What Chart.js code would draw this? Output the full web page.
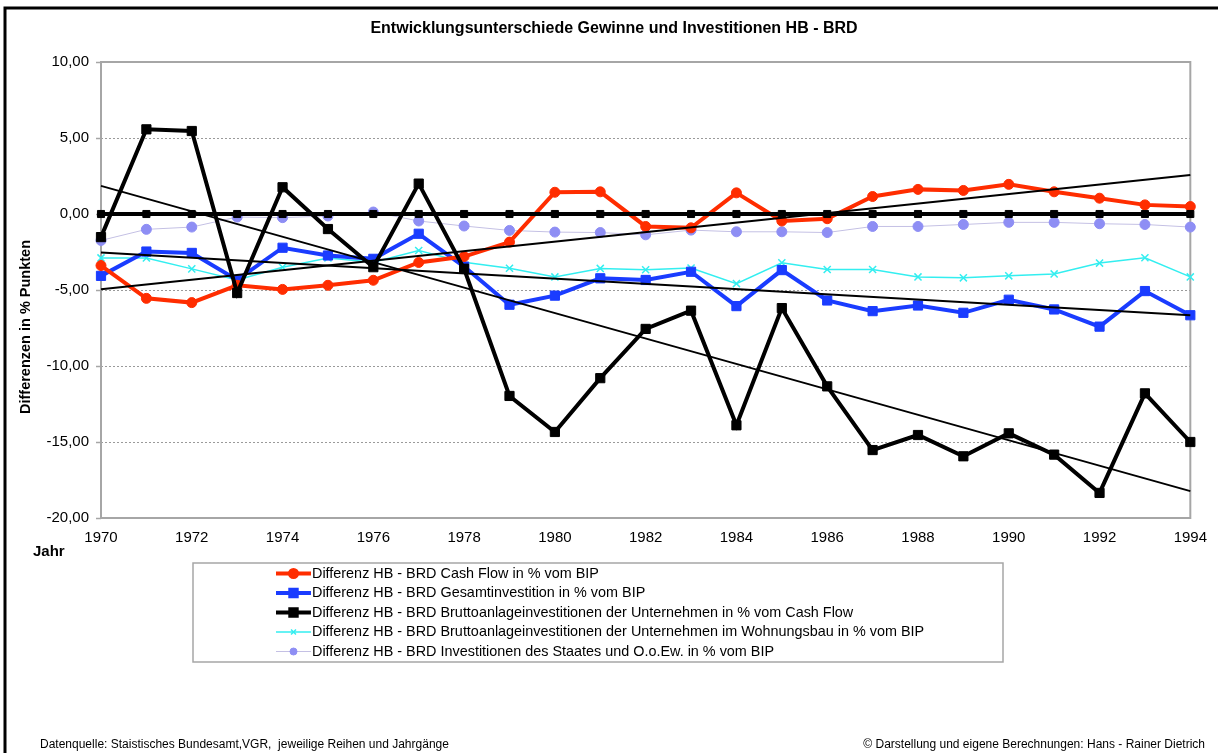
<!DOCTYPE html>
<html>
<head>
<meta charset="utf-8">
<script src="https://cdn.jsdelivr.net/npm/chart.js@4"></script>
<style>
  body { margin: 0; background: #fff; }
  #wrap { position: relative; width: 1218px; height: 753px; }
</style>
</head>
<body>
<div id="wrap"><canvas id="chart"></canvas></div>
<script>
// --- data ---
const years = ['1970','1971','1972','1973','1974','1975','1976','1977','1978','1979','1980','1981','1982',
               '1983','1984','1985','1986','1987','1988','1989','1990','1991','1992','1993','1994'];

const cashFlow = [-3.39,-5.55,-5.83,-4.69,-4.96,-4.69,-4.36,-3.19,-2.80,-1.85,1.43,1.46,-0.82,
                  -0.91,1.39,-0.46,-0.31,1.15,1.62,1.55,1.95,1.46,1.04,0.60,0.49];
const gesamtInvest = [-4.07,-2.47,-2.56,-4.34,-2.22,-2.73,-2.95,-1.30,-3.46,-5.97,-5.37,-4.23,-4.34,
                      -3.80,-6.06,-3.69,-5.69,-6.39,-6.02,-6.50,-5.64,-6.28,-7.41,-5.07,-6.66];
const bruttoCashFlow = [-1.52,5.57,5.46,-5.20,1.76,-0.99,-3.50,2.00,-3.60,-11.97,-14.34,-10.80,-7.56,
                        -6.36,-13.90,-6.19,-11.34,-15.53,-14.54,-15.94,-14.43,-15.83,-18.35,-11.80,-15.00];
const wohnungsbau = [-2.89,-2.89,-3.61,-4.34,-3.50,-2.89,-3.17,-2.40,-3.17,-3.57,-4.14,-3.58,-3.67,
                     -3.56,-4.58,-3.21,-3.65,-3.65,-4.14,-4.20,-4.07,-3.94,-3.23,-2.88,-4.14];
const staat = [-1.74,-1.01,-0.86,-0.20,-0.24,-0.13,0.13,-0.46,-0.79,-1.08,-1.19,-1.22,-1.37,
               -1.06,-1.17,-1.17,-1.22,-0.82,-0.82,-0.69,-0.55,-0.55,-0.64,-0.69,-0.86];
const baseline = [0,0,0,0,0,0,0,0,0,0,0,0,0,0,0,0,0,0,0,0,0,0,0,0,0];

// trend lines: value at 1970 and at 1994
const trendCashFlow = [-4.95, 2.57];
const trendGesamt = [-2.53, -6.66];
const trendBrutto = [1.85, -18.23];

const yTicks = [10, 5, 0, -5, -10, -15, -20];

const legendLabels = [
    'Differenz HB - BRD Cash Flow in % vom BIP',
    'Differenz HB - BRD Gesamtinvestition in % vom BIP',
    'Differenz HB - BRD Bruttoanlageinvestitionen der Unternehmen in % vom Cash Flow',
    'Differenz HB - BRD Bruttoanlageinvestitionen der Unternehmen im Wohnungsbau in % vom BIP',
    'Differenz HB - BRD Investitionen des Staates und O.o.Ew. in % vom BIP'
];

const FONT = '"Liberation Sans", Arial, Helvetica, sans-serif';

// spread two trend endpoints over the category axis (nulls in between)
function trendData(ends) {
    return years.map((y, i) => i === 0 ? ends[0] : (i === years.length - 1 ? ends[1] : null));
}

const fmt = v => v.toFixed(2).replace('.', ',');

// --- frame, plot border, titles, custom legend ---
const decorPlugin = {
    id: 'decor',
    beforeDatasetsDraw(chart) {
        const { ctx, chartArea: a } = chart;
        ctx.save();
        ctx.strokeStyle = '#a6a6a6';
        ctx.lineWidth = 2;
        ctx.setLineDash([]);
        ctx.strokeRect(a.left, a.top, a.right - a.left, a.bottom - a.top);
        ctx.restore();
    },
    afterDraw(chart) {
        const { ctx } = chart;
        ctx.save();

        // black frame (top and left)
        ctx.strokeStyle = '#000';
        ctx.lineWidth = 3;
        ctx.beginPath();
        ctx.moveTo(5, 760);
        ctx.lineTo(5, 8);
        ctx.lineTo(1225, 8);
        ctx.stroke();

        ctx.fillStyle = '#000';
        ctx.textBaseline = 'middle';

        // title
        ctx.font = 'bold 16px ' + FONT;
        ctx.textAlign = 'center';
        ctx.fillText('Entwicklungsunterschiede Gewinne und Investitionen HB - BRD', 614, 29);

        // y title
        ctx.save();
        ctx.translate(26, 327);
        ctx.rotate(-Math.PI / 2);
        ctx.font = 'bold 14.5px ' + FONT;
        ctx.fillText('Differenzen in % Punkten', 0, 0);
        ctx.restore();

        // x title
        ctx.font = 'bold 15px ' + FONT;
        ctx.textAlign = 'left';
        ctx.fillText('Jahr', 33, 552);

        // legend box
        ctx.strokeStyle = '#a6a6a6';
        ctx.lineWidth = 1.5;
        ctx.strokeRect(193, 563, 810, 99);
        const rows = [573.5, 593, 612.5, 632, 651.5];
        ctx.font = '14.4px ' + FONT;
        legendLabels.forEach((label, i) => {
            const ds = chart.data.datasets[i];
            const y = rows[i];
            ctx.save();
            ctx.strokeStyle = ds.borderColor;
            ctx.lineWidth = ds.borderWidth;
            ctx.beginPath();
            ctx.moveTo(276, y);
            ctx.lineTo(311, y);
            ctx.stroke();
            ctx.fillStyle = ds.pointBackgroundColor;
            ctx.strokeStyle = ds.pointBorderColor;
            Chart.helpers.drawPoint(ctx, {
                pointStyle: ds.pointStyle,
                radius: ds.pointRadius * 0.7,
                rotation: 0,
                borderWidth: ds.pointBorderWidth
            }, 293.5, y);
            ctx.restore();
            ctx.fillStyle = '#000';
            ctx.fillText(label, 312, y + 0.5);
        });

        // footer
        ctx.font = '12px ' + FONT;
        ctx.textAlign = 'left';
        ctx.fillText('Datenquelle: Staistisches Bundesamt,VGR,  jeweilige Reihen und Jahrgänge', 40, 745);
        ctx.textAlign = 'right';
        ctx.fillText('\u00A9 Darstellung und eigene Berechnungen: Hans - Rainer Dietrich', 1205, 745);

        ctx.restore();
    }
};

const ctxMain = document.getElementById('chart').getContext('2d');
new Chart(ctxMain, {
    type: 'line',
    data: {
        labels: years,
        datasets: [
            {
                label: legendLabels[0], data: cashFlow, order: 4,
                borderColor: '#ff2d00', borderWidth: 4,
                pointStyle: 'circle', pointRadius: 5,
                pointBackgroundColor: '#ff2d00', pointBorderColor: '#ff2d00', pointBorderWidth: 1
            },
            {
                label: legendLabels[1], data: gesamtInvest, order: 5,
                borderColor: '#1a3cff', borderWidth: 4,
                pointStyle: 'rect', pointRadius: 6.5,
                pointBackgroundColor: '#1a3cff', pointBorderColor: '#1a3cff', pointBorderWidth: 1
            },
            {
                label: legendLabels[2], data: bruttoCashFlow, order: 2,
                borderColor: '#000000', borderWidth: 4,
                pointStyle: 'rect', pointRadius: 6.5,
                pointBackgroundColor: '#000000', pointBorderColor: '#000000', pointBorderWidth: 1
            },
            {
                label: legendLabels[3], data: wohnungsbau, order: 6,
                borderColor: '#33eef0', borderWidth: 1.5,
                pointStyle: 'crossRot', pointRadius: 5,
                pointBackgroundColor: '#33eef0', pointBorderColor: '#33eef0', pointBorderWidth: 1.5
            },
            {
                label: legendLabels[4], data: staat, order: 7,
                borderColor: '#c4c0e4', borderWidth: 1,
                pointStyle: 'circle', pointRadius: 5,
                pointBackgroundColor: '#8e8ef4', pointBorderColor: '#8e8ef4', pointBorderWidth: 1
            },
            {
                label: 'Basis', data: baseline, order: 3,
                borderColor: '#000000', borderWidth: 4,
                pointStyle: 'rect', pointRadius: 5,
                pointBackgroundColor: '#000000', pointBorderColor: '#000000', pointBorderWidth: 1
            },
            {
                label: 'Trend Cash Flow', data: trendData(trendCashFlow), order: 1, spanGaps: true,
                borderColor: '#000000', borderWidth: 2, pointRadius: 0
            },
            {
                label: 'Trend Gesamtinvestition', data: trendData(trendGesamt), order: 1, spanGaps: true,
                borderColor: '#000000', borderWidth: 2, pointRadius: 0
            },
            {
                label: 'Trend Bruttoanlageinvestitionen', data: trendData(trendBrutto), order: 1, spanGaps: true,
                borderColor: '#000000', borderWidth: 2, pointRadius: 0
            }
        ]
    },
    options: {
        responsive: true,
        maintainAspectRatio: false,
        animation: false,
        elements: { line: { tension: 0 } },
        layout: { padding: { top: 62, right: 25, bottom: 195, left: 0 } },
        plugins: {
            legend: { display: false },
            title: { display: false },
            tooltip: { enabled: false }
        },
        scales: {
            x: {
                offset: false,
                grid: { display: false, drawTicks: false },
                border: { display: false },
                afterFit: scale => { scale.height = 40; },
                ticks: {
                    autoSkip: false,
                    maxRotation: 0,
                    padding: 11,
                    color: '#000',
                    font: { family: FONT, size: 15 },
                    callback: function (value, index) {
                        return index % 2 === 0 ? this.getLabelForValue(value) : '';
                    }
                }
            },
            y: {
                min: -20,
                max: 10,
                afterFit: scale => { scale.width = 101; },
                afterBuildTicks: scale => { scale.ticks = yTicks.map(v => ({ value: v })); },
                border: { display: false, dash: [2, 2] },
                grid: {
                    color: '#9a9a9a',
                    lineWidth: 1,
                    tickLength: 5,
                    tickColor: '#a6a6a6',
                    tickWidth: 1.5,
                    tickBorderDash: []
                },
                ticks: {
                    padding: 7,
                    color: '#000',
                    font: { family: FONT, size: 15 },
                    callback: value => fmt(value)
                }
            }
        }
    },
    plugins: [decorPlugin]
});
</script>
</body>
</html>
